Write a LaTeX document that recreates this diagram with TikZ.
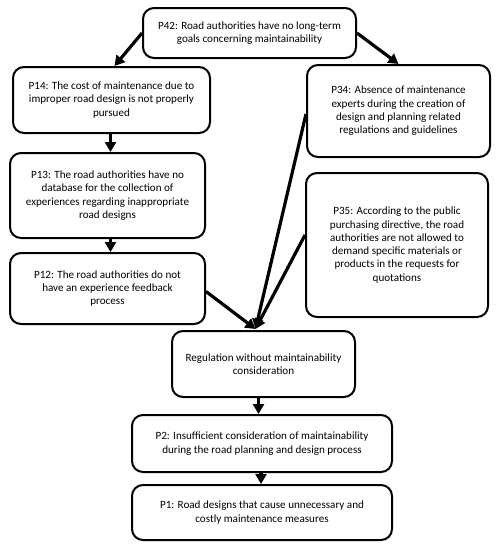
\documentclass[tikz,border=0pt]{standalone}
\usepackage{fontspec}
\setmainfont{Carlito}
\usetikzlibrary{positioning,arrows.meta}

\begin{document}
\begin{tikzpicture}[
    x=1pt, y=-1pt,
    box/.style={draw, line width=2pt, rounded corners=11pt, align=center, inner sep=2pt,
      font=\fontsize{11.1}{13.3}\selectfont},
    link/.style={line width=3.2pt, -{Triangle[length=10pt,width=11pt]}}
  ]
\useasboundingbox (0,0) rectangle (500,550);

% Top cause
\node[box, minimum width=213pt, minimum height=50pt] (p42) at (249.5,33)
  {P42: Road authorities have no long-term\\goals concerning maintainability};

% Left chain
\node[box, minimum width=197pt, minimum height=66pt] (p14) at (111.5,100)
  {P14: The cost of maintenance due to\\improper road design is not properly\\pursued};
\node[box, minimum width=195pt, minimum height=85pt] (p13) at (107.5,195.5)
  {P13: The road authorities have no\\database for the collection of\\experiences regarding inappropriate\\road designs};
\node[box, minimum width=195pt, minimum height=71pt] (p12) at (107.5,288.5)
  {P12: The road authorities do not\\have an experience feedback\\process};

% Right column
\node[box, minimum width=183pt, minimum height=92pt] (p34) at (398.5,111)
  {P34: Absence of maintenance\\experts during the creation of\\design and planning related\\regulations and guidelines};
\node[box, minimum width=182pt, minimum height=144pt] (p35) at (397,245)
  {P35: According to the public\\purchasing directive, the road\\authorities are not allowed to\\demand specific materials or\\products in the requests for\\quotations};

% Bottom chain
\node[box, minimum width=183pt, minimum height=66pt] (reg) at (263.5,364)
  {Regulation without maintainability\\consideration};
\node[box, minimum width=260pt, minimum height=57pt] (p2) at (262,443.5)
  {P2: Insufficient consideration of maintainability\\during the road planning and design process};
\node[box, minimum width=260pt, minimum height=55pt] (p1) at (262,512.5)
  {P1: Road designs that cause unnecessary and\\costly maintenance measures};

% Meeting point above the regulation box
\coordinate (meet) at ([xshift=-8pt, yshift=1pt]reg.north);

% Connectors
\draw[link] (p42.west) -- ([xshift=3pt]p14.north);
\draw[link] (p42.east) -- (p34.north);
\draw[link] ([xshift=-1pt]p14.south) -- ([xshift=-1pt]p14.south |- p13.north);
\draw[link] ([xshift=3pt]p13.south) -- ([xshift=3pt]p13.south |- p12.north);
\draw[link] ([yshift=-3pt]p12.east) -- (meet);
\draw[link] ([yshift=-3pt]p34.west) -- (meet);
\draw[link] ([yshift=10pt]p35.west) -- (meet);
\draw[link] ([xshift=-5pt]reg.south) -- ([xshift=-5pt]reg.south |- p2.north);
\draw[link] ([xshift=-1pt]p2.south) -- ([xshift=-1pt]p2.south |- p1.north);

\end{tikzpicture}
\end{document}
